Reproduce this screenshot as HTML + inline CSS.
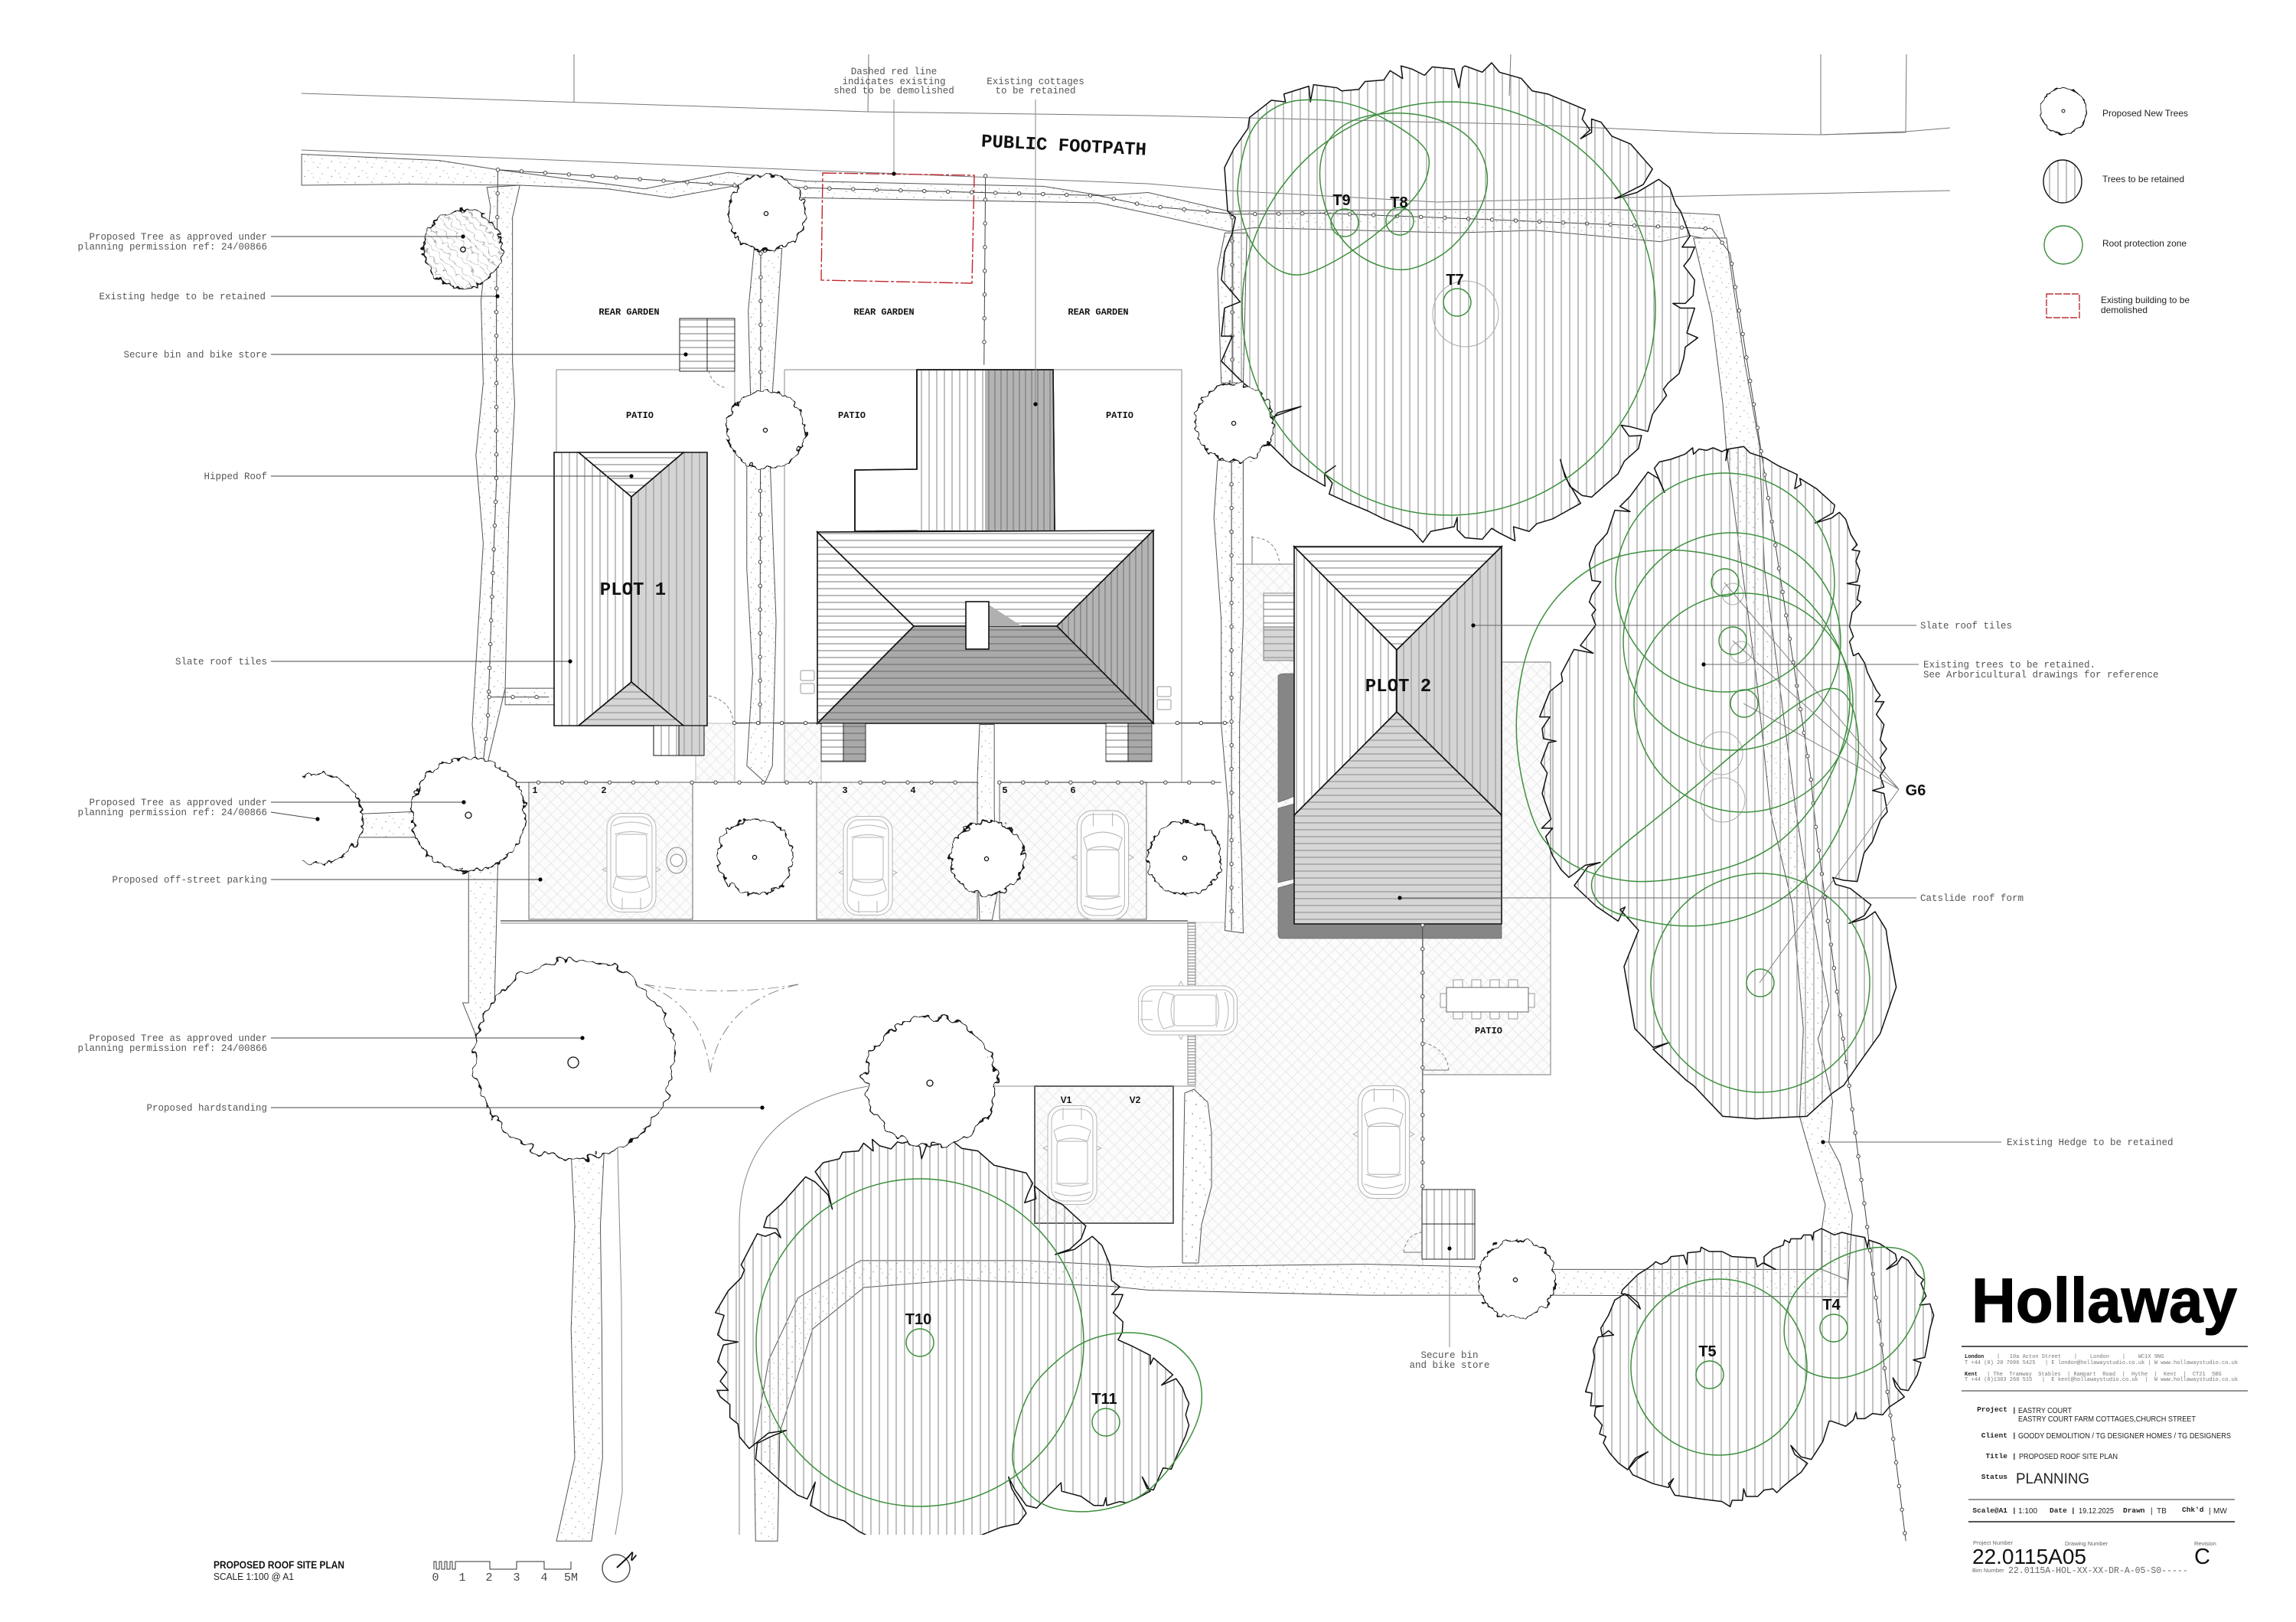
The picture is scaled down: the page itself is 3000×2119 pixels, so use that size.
<!DOCTYPE html>
<html><head><meta charset="utf-8"><title>Proposed Roof Site Plan</title>
<style>
html,body{margin:0;padding:0;background:#fff;width:3000px;height:2119px;overflow:hidden}
svg{display:block}
.m{font-family:"Liberation Mono",monospace}
.s{font-family:"Liberation Sans",sans-serif}
.lab{font-size:12.5px;fill:#555}
.b{font-weight:bold;fill:#111}
.t{font-family:"Liberation Sans",sans-serif;font-weight:bold;font-size:20px;fill:#111;text-anchor:middle}
.mid{text-anchor:middle}.end{text-anchor:end}
.sm{font-family:"Liberation Mono",monospace;font-size:7px;fill:#777}
.smb{font-family:"Liberation Mono",monospace;font-size:7px;fill:#222;font-weight:bold}
.k{font-family:"Liberation Mono",monospace;font-weight:bold;font-size:9.5px;fill:#222;text-anchor:end}
.k2{font-family:"Liberation Mono",monospace;font-weight:bold;font-size:9.5px;fill:#222}
.v{font-family:"Liberation Sans",sans-serif;font-size:10px;fill:#222}
.cap{font-family:"Liberation Sans",sans-serif;font-size:7.5px;fill:#666}
.ns polygon,.ns polyline,.ns path,.nss,#fp polyline{vector-effect:non-scaling-stroke}
#fp polyline{fill:none}
</style></head><body>
<svg xmlns="http://www.w3.org/2000/svg" width="3000" height="2119" viewBox="0 0 3000 2119">
<defs>
<pattern id="hat" width="11" height="20" patternUnits="userSpaceOnUse"><line x1="5" y1="0" x2="5" y2="20" stroke="#999" stroke-width="1.2"/></pattern>
<pattern id="diag" width="12" height="12" patternUnits="userSpaceOnUse"><rect width="12" height="12" fill="#fff"/><path d="M0 0L12 12" stroke="#aaa" stroke-width=".8"/></pattern>
<pattern id="rv" width="10" height="20" patternUnits="userSpaceOnUse"><rect width="10" height="20" fill="#fff"/><line x1="4" y1="0" x2="4" y2="20" stroke="#777" stroke-width=".9"/></pattern>
<pattern id="rvg" width="10" height="20" patternUnits="userSpaceOnUse"><rect width="10" height="20" fill="#d4d4d4"/><line x1="4" y1="0" x2="4" y2="20" stroke="#888" stroke-width=".9"/></pattern>
<pattern id="rvd" width="8" height="20" patternUnits="userSpaceOnUse"><rect width="8" height="20" fill="#b4b4b4"/><line x1="4" y1="0" x2="4" y2="20" stroke="#666" stroke-width=".9"/></pattern>
<pattern id="rh" width="20" height="9" patternUnits="userSpaceOnUse"><rect width="20" height="9" fill="#fff"/><line x1="0" y1="4" x2="20" y2="4" stroke="#777" stroke-width=".9"/></pattern>
<pattern id="rhg" width="20" height="9" patternUnits="userSpaceOnUse"><rect width="20" height="9" fill="#d6d6d6"/><line x1="0" y1="4" x2="20" y2="4" stroke="#888" stroke-width=".9"/></pattern>
<pattern id="rhd" width="20" height="9" patternUnits="userSpaceOnUse"><rect width="20" height="9" fill="#a9a9a9"/><line x1="0" y1="4" x2="20" y2="4" stroke="#666" stroke-width=".9"/></pattern>
<pattern id="herr" width="16" height="16" patternUnits="userSpaceOnUse"><rect width="16" height="16" fill="#fcfcfc"/><path d="M0 8L8 0M8 16L16 8M0 8L8 16M8 0L16 8" stroke="#e8e8e8" stroke-width=".9" fill="none"/></pattern>
<pattern id="stip" width="37" height="29" patternUnits="userSpaceOnUse"><rect width="37" height="29" fill="#fff"/><g fill="#8f8f8f"><circle cx="4" cy="5" r=".9"/><circle cx="14" cy="11" r=".8"/><circle cx="27" cy="4" r=".9"/><circle cx="33" cy="17" r=".8"/><circle cx="9" cy="22" r=".9"/><circle cx="21" cy="24" r=".8"/><circle cx="19" cy="16" r=".7"/><circle cx="30" cy="26" r=".7"/></g></pattern>
<pattern id="ladder" width="20" height="4" patternUnits="userSpaceOnUse"><line x1="0" y1="2" x2="20" y2="2" stroke="#777" stroke-width="1"/></pattern>
<clipPath id="plan"><rect x="394" y="70" width="2200" height="1935"/></clipPath>
<clipPath id="halfT"><rect x="395" y="900" width="200" height="300"/></clipPath>
<filter id="ro" x="-15%" y="-15%" width="130%" height="130%" color-interpolation-filters="sRGB"><feTurbulence type="fractalNoise" baseFrequency=".11" numOctaves="2" seed="4"/><feDisplacementMap in="SourceGraphic" scale="13" xChannelSelector="R" yChannelSelector="G"/></filter>
<filter id="ro2" x="-10%" y="-10%" width="120%" height="120%" color-interpolation-filters="sRGB"><feTurbulence type="fractalNoise" baseFrequency=".07" numOctaves="2" seed="9"/><feDisplacementMap in="SourceGraphic" scale="20" xChannelSelector="R" yChannelSelector="G"/></filter>
<filter id="ro3" x="-15%" y="-15%" width="130%" height="130%" color-interpolation-filters="sRGB"><feTurbulence type="fractalNoise" baseFrequency=".12" numOctaves="2" seed="2"/><feDisplacementMap in="SourceGraphic" scale="6" xChannelSelector="R" yChannelSelector="G"/></filter>

<!-- traced retained tree canopies -->
<polygon id="pT7" class="nss" transform="translate(1600 80) scale(.40816)" points="0,340 30,280 75,215 80,180 150,125 195,130 190,105 270,80 275,130 285,75 360,85 375,95 430,90 450,65 510,60 530,30 570,55 565,15 600,25 640,45 665,18 735,25 750,85 762,20 770,15 825,35 855,5 880,35 950,55 985,95 1035,105 1155,155 1145,185 1170,220 1140,248 1175,228 1175,185 1205,195 1240,240 1300,265 1370,345 1340,395 1250,440 1320,420 1390,378 1425,405 1445,460 1460,480 1490,560 1465,595 1505,595 1490,630 1470,655 1505,700 1500,750 1475,775 1435,775 1460,790 1505,790 1480,870 1515,885 1475,915 1470,950 1455,1000 1420,1030 1405,1050 1415,1070 1370,1130 1355,1185 1300,1170 1270,1165 1295,1200 1335,1198 1325,1240 1280,1280 1260,1320 1175,1395 1145,1390 1105,1360 1085,1310 1075,1275 1090,1330 1140,1415 1050,1465 1000,1480 975,1505 925,1490 930,1535 880,1510 855,1495 825,1530 770,1525 745,1500 745,1460 735,1490 660,1505 635,1540 600,1500 510,1465 460,1440 400,1415 335,1385 345,1350 320,1320 355,1295 320,1320 322,1360 270,1330 215,1295 140,1220 150,1140 245,1105 170,1125 150,1150 125,1080 100,1060 60,1030 30,1000 -10,960 25,880 -10,880 0,790 50,770 -10,700 0,610 25,550 35,500 10,480"/>
<polygon id="pG6" class="nss" transform="translate(1990 570) scale(.33333)" points="515,125 535,100 580,90 635,70 665,45 668,70 690,50 720,55 745,45 780,60 800,50 795,95 805,50 865,40 890,65 950,85 1000,115 1075,150 1065,205 1090,190 1085,165 1150,205 1222,270 1215,300 1145,340 1210,320 1240,298 1265,325 1285,385 1310,425 1290,445 1320,450 1305,490 1320,525 1310,570 1270,577 1320,585 1310,640 1325,650 1290,690 1280,745 1295,785 1280,805 1295,860 1315,850 1340,890 1350,925 1385,995 1400,1015 1380,1040 1415,1040 1385,1090 1415,1130 1400,1190 1425,1225 1400,1260 1420,1300 1400,1330 1415,1375 1370,1388 1415,1400 1428,1472 1401,1504 1369,1590 1337,1633 1310,1745 1257,1740 1214,1729 1225,1756 1283,1772 1364,1836 1337,1879 1278,1909 1342,1890 1380,1863 1423,1933 1429,1977 1463,2159 1400,2341 1328,2442 1257,2544 1213,2574 1113,2665 912,2675 783,2665 668,2544 640,2524 510,2402 573,2376 510,2395 438,2321 410,2159 396,2078 453,1936 381,1855 400,1845 373,1900 287,1842 201,1761 255,1686 303,1670 244,1681 180,1729 148,1697 116,1644 89,1569 116,1536 73,1536 110,1500 75,1400 95,1320 70,1280 100,1200 130,1195 80,1185 75,1145 105,1100 65,1100 105,1000 155,960 150,930 200,835 275,850 225,820 285,740 270,700 285,680 260,650 270,620 305,570 270,565 260,500 285,430 330,380 360,290 420,295 380,275 420,235 490,140 530,165 555,220"/>
<polygon id="pT10" class="nss" transform="translate(920 1480) scale(.42092 .33801)" points="345,150 370,115 420,100 430,75 480,70 495,40 525,70 522,25 545,50 580,62 600,35 615,40 645,30 670,55 675,100 690,50 725,45 765,25 800,60 850,70 900,125 1000,155 1020,195 1005,235 995,270 1030,255 1025,205 1075,255 1110,275 1185,360 1170,410 1135,450 1090,470 1150,450 1205,400 1235,435 1260,510 1265,570 1290,595 1265,625 1300,625 1285,670 1270,695 1300,730 1298,770 1285,800 1330,825 1385,860 1385,895 1395,870 1455,935 1420,975 1465,950 1485,985 1495,1020 1505,1045 1495,1090 1505,1130 1495,1170 1470,1240 1450,1300 1425,1295 1395,1380 1375,1375 1360,1330 1385,1385 1340,1415 1310,1430 1290,1425 1250,1440 1247,1410 1240,1440 1210,1440 1170,1405 1110,1385 1108,1352 1032,1450 1000,1440 965,1380 945,1330 955,1375 1000,1470 975,1510 920,1525 860,1555 830,1575 535,1575 480,1540 435,1500 385,1480 330,1440 345,1350 320,1415 290,1400 245,1355 160,1260 165,1200 205,1175 255,1150 200,1160 140,1220 110,1175 105,1125 80,1100 80,1050 50,1020 40,995 75,995 50,960 70,925 42,885 60,820 105,808 60,800 42,780 62,705 35,695 75,610 115,560 125,530 115,510 165,390 190,400 220,385 238,405 225,370 185,365 195,325 240,275 315,170 345,190 385,240 398,295 385,225"/>
<polygon id="pT5" class="nss" transform="translate(2060 1590) scale(.33333)" points="180,285 240,225 280,200 300,185 310,175 330,185 355,175 370,155 420,150 432,185 435,140 485,135 488,118 520,135 570,135 610,155 700,160 708,195 730,180 780,205 735,180 735,155 770,125 810,110 815,90 835,100 840,85 880,85 890,70 920,70 925,90 930,60 960,45 1010,70 1040,60 1080,70 1130,80 1140,120 1145,90 1190,105 1250,145 1255,170 1215,205 1255,185 1275,155 1300,170 1335,225 1360,245 1350,260 1370,310 1345,345 1385,340 1400,385 1385,440 1375,500 1365,550 1320,560 1350,570 1335,620 1300,680 1270,675 1240,630 1250,665 1285,705 1225,745 1200,775 1160,770 1130,790 1100,790 1095,765 1085,795 1055,820 1000,800 990,800 965,880 920,950 880,940 840,895 855,930 905,965 880,1000 835,1035 805,1060 785,1080 770,1065 735,1070 710,1095 665,1095 655,1065 650,1110 610,1110 602,1135 570,1115 490,1105 385,1090 360,1045 380,1025 360,1060 300,1045 220,1010 205,985 235,950 280,920 230,945 200,990 165,965 130,925 105,885 115,860 90,850 100,815 70,780 75,745 105,740 55,740 60,690 35,685 55,620 70,550 65,520 85,470 145,462 125,445 100,465 95,435 125,385 150,325 190,300 250,360 240,335 205,305 175,300"/>
<clipPath id="cT7"><use href="#pT7"/></clipPath>
<clipPath id="cG6"><use href="#pG6"/></clipPath>
<clipPath id="cT10"><use href="#pT10"/></clipPath>
<clipPath id="cT5"><use href="#pT5"/></clipPath>

<!-- fence paths, in a shared coordinate frame -->
<g id="fp">
<polyline points="680,328 1000,358 1150,365 1340,372 1500,378 1568,398 1688,414 1808,412 2048,425 2338,442 2363,490 2403,850 2473,1500 2480,1598 2543,2288 2603,2978"/>
<polyline points="680,328 678,570 678,930 672,1150 666,1400 660,1470"/>
<polyline points="1346,340 1344,705"/><polyline points="1039,490 1038,1400"/>
<polyline points="1683,420 1683,740"/><polyline points="1682,890 1682,1568 1682,1798"/>
<polyline points="703,1512 900,1512"/><polyline points="945,1512 1135,1512"/><polyline points="1175,1512 1335,1512"/><polyline points="1365,1512 1668,1512"/>
<polyline points="1003,1397 1120,1397"/><polyline points="1608,1397 1678,1397"/><polyline points="668,1347 750,1347"/><polyline points="1943,1788 1943,2298"/>
</g>

<g id="car" fill="#fff" stroke="#b5b5b5" stroke-width="1">
<rect x="-32" y="-64.5" width="64" height="129" rx="19"/>
<rect x="-27" y="-60" width="54" height="120" rx="15" fill="none"/>
<path d="M-24 -32Q0 -46 24 -32L20 -18Q0 -26 -20 -18Z" fill="none"/>
<rect x="-20" y="-18" width="40" height="55" rx="4" fill="none"/>
<path d="M-22 37Q0 44 22 37M-24 48Q0 58 24 48M-32 -12l-6 3l6 3M32 -12l6 3l-6 3M-12 -62V-46M12 -62V-46" fill="none"/>
</g>
</defs>
<rect width="3000" height="2119" fill="#fff"/>

<!-- site lines -->
<g fill="none" stroke="#777" stroke-width="1">
<polyline points="394,122 1134,146 1500,151 1978,162 2241,174 2378,176 2490,172 2548,167"/>
<polyline points="394,196 1500,240 1605,249 1878,264 2170,257 2548,249"/>
<line x1="750" y1="71" x2="750" y2="133"/><line x1="1135" y1="71" x2="1134" y2="146"/><line x1="1974" y1="71" x2="1972" y2="125"/>
<polyline points="2379,71 2379,176 2490,173 2491,71"/>
</g>

<!-- paving -->
<g fill="url(#herr)" stroke="#666" stroke-width="1">
<rect x="691" y="1022" width="214" height="179"/><rect x="1067" y="1022" width="210" height="179"/><rect x="1306" y="1022" width="192" height="179"/>
<rect x="909" y="945" width="51" height="77" stroke="#bbb"/><rect x="1025" y="945" width="48" height="77" stroke="#bbb"/>
<polygon points="1562,1205 1562,1656 1859,1656 1859,1226 1691,1226 1691,737 1615,737 1615,1205" stroke="#ccc"/>
<rect x="1859" y="865" width="167" height="539" stroke="#777"/>
<rect x="1352" y="1419" width="181" height="179" stroke="#666" stroke-width="2"/>
</g>
<rect x="1552" y="1205" width="10" height="212" fill="url(#ladder)" stroke="#777" stroke-width=".8"/>
<g fill="none" stroke="#888" stroke-width="1">
<line x1="654" y1="1203" x2="1552" y2="1203" stroke-width="2"/><line x1="654" y1="1206" x2="1552" y2="1206"/>
<line x1="1296" y1="1419" x2="1352" y2="1419"/>
<line x1="1533" y1="1419" x2="1562" y2="1419"/>
<path d="M1134 1419 Q966 1450 966 1600 L966 2005"/>
<path d="M727 483H960V946M727 483V591M1025 483H1198M1376 483H1544V1022M1025 483V1022"/>
<path d="M807 1500L812 1700L813 1950L804 2005"/>
<path d="M960 945H1073M1505 945H1615"/>
</g>

<!-- hedges: shared zoom frame -->
<g transform="scale(.95666 .67604)" class="ns" clip-path="url(#plan2)" fill="url(#stip)" stroke="#555" stroke-width="1">
<polygon points="412,298 600,310 680,328 880,365 995,333 1100,350 1425,360 1505,378 1568,372 1678,408 1968,405 2208,405 2348,415 2358,470 2308,455 2268,467 2098,445 1988,450 1713,440 1678,447 1568,412 1500,392 1090,382 1000,360 915,382 830,365 710,358 560,356 412,358"/>
<polygon points="665,362 670,400 657,580 660,740 650,880 660,1050 645,1400 650,1470 665,1480 690,1330 695,1000 703,780 700,700 700,420 710,358"/>
<polygon points="640,1668 640,1938 632,1938 655,2018 675,1958 680,1668"/>
<polygon points="690,1330 760,1330 760,1362 690,1362"/>
<polygon points="490,1573 575,1568 575,1618 490,1618"/>
<polygon points="1030,480 1022,600 1025,760 1020,900 1020,1100 1028,1300 1020,1480 1045,1512 1055,1480 1060,1200 1052,900 1055,760 1068,480"/>
<polygon points="1338,1400 1335,1500 1335,1668 1338,1778 1355,1778 1362,1728 1358,1568 1358,1400"/>
<polygon points="1668,740 1663,520 1673,450 1703,450 1698,740"/>
<polygon points="1663,890 1658,1000 1668,1200 1668,1400 1678,1568 1676,1668 1673,1798 1698,1803 1696,1668 1693,1568 1693,1400 1698,1200 1698,890"/>
<polygon points="2313,460 2338,610 2353,780 2358,870 2398,1300 2418,1568 2448,1748 2463,1988 2458,2158 2468,2208 2493,2328 2488,2378 2488,2453 2523,2506 2530,2348 2513,2248 2498,2208 2503,2128 2483,2008 2498,1943 2473,1748 2453,1568 2410,1100 2403,860 2383,700 2368,560 2358,460"/>
<polygon points="1032,2978 1030,2788 1050,2628 1090,2508 1175,2436 1400,2436 1568,2448 1868,2443 2018,2448 2123,2453 2488,2453 2523,2473 2523,2506 2123,2503 2018,2503 1868,2503 1568,2493 1520,2486 1310,2473 1180,2488 1110,2568 1065,2768 1062,2978"/>
<polygon points="780,2228 785,2368 780,2568 785,2818 760,2978 808,2978 823,2818 822,2568 820,2368 825,2228"/>
</g>
<polygon points="1548,1428 1560,1423 1578,1440 1583,1480 1583,1550 1570,1600 1566,1650 1545,1650 1545,1600" fill="url(#stip)" stroke="#555" stroke-width="1"/>

<!-- Plot 1 -->
<g stroke="#111" stroke-width="1.6" stroke-linejoin="miter">
<polygon points="724,591 756,591 825,649 825,891 756,948 724,948" fill="url(#rv)"/>
<polygon points="893,591 924,591 924,948 893,948 825,891 825,649" fill="url(#rvg)"/>
<polygon points="756,591 893,591 825,649" fill="url(#rh)"/>
<polygon points="756,948 893,948 825,891" fill="url(#rhg)"/>
<rect x="854" y="948" width="33" height="39" fill="url(#rv)" stroke-width="1"/><rect x="887" y="948" width="33" height="39" fill="url(#rvg)" stroke-width="1"/>
<!-- rear cottage roof -->
<polygon points="1117,694 1117,614 1198,613 1198,483 1376,483 1378,692" fill="#fff"/>
<rect x="1199" y="484" width="88" height="209" fill="url(#rv)" stroke="none"/><rect x="1287" y="484" width="90" height="209" fill="url(#rvd)" stroke="none"/>
<polyline points="1117,694 1117,614 1198,613 1198,483 1376,483 1378,692" fill="none"/>
<!-- main roof -->
<polygon points="1068,695 1194,818 1068,945" fill="url(#rh)"/>
<polygon points="1068,695 1507,693 1381,818 1194,818" fill="url(#rh)"/>
<polygon points="1507,693 1507,945 1381,818" fill="url(#rvd)"/>
<polygon points="1068,945 1507,945 1381,818 1194,818" fill="url(#rhd)"/>
<polygon points="1292,790 1335,818 1292,818" fill="#b0b0b0" stroke="none"/>
<rect x="1262" y="786" width="30" height="62" fill="#fff"/>
<!-- stubs -->
<rect x="1073" y="945" width="29" height="50" fill="url(#rh)" stroke-width=".8"/><rect x="1102" y="945" width="29" height="50" fill="url(#rhd)" stroke-width=".8"/>
<rect x="1445" y="945" width="29" height="50" fill="url(#rh)" stroke-width=".8"/><rect x="1474" y="945" width="31" height="50" fill="url(#rhd)" stroke-width=".8"/>
<!-- Plot 2 dark strip -->
<path d="M1670 884 Q1670 880 1680 880 H1691 V1040 Q1680 1045 1670 1048Z M1670 1056 L1691 1050 V1148 L1670 1153Z M1670 1160 L1691 1154 V1207 H1962 V1226 H1674 Q1670 1226 1670 1220Z" fill="#868686" stroke="#666" stroke-width=".8"/>
<rect x="1651" y="775" width="40" height="44" fill="url(#rh)" stroke="#666" stroke-width=".8"/><rect x="1651" y="819" width="40" height="44" fill="url(#rhg)" stroke="#666" stroke-width=".8"/>
<!-- Plot 2 roof -->
<polygon points="1691,714 1825,849 1825,930 1691,1065" fill="url(#rv)"/>
<polygon points="1962,714 1962,1065 1825,930 1825,849" fill="url(#rvg)"/>
<polygon points="1691,714 1962,714 1825,849" fill="url(#rh)"/>
<polygon points="1825,930 1962,1065 1962,1207 1691,1207 1691,1065" fill="url(#rhg)"/>
</g>
<!-- meter boxes -->
<g fill="#fff" stroke="#999" stroke-width="1"><rect x="1046" y="876" width="18" height="13" rx="2"/><rect x="1046" y="893" width="18" height="13" rx="2"/><rect x="1512" y="897" width="18" height="13" rx="2"/><rect x="1512" y="914" width="18" height="13" rx="2"/></g>
<!-- stores -->
<g stroke="#222" stroke-width="1">
<rect x="888" y="416" width="72" height="69" fill="url(#rh)"/><line x1="924" y1="416" x2="924" y2="485"/>
<rect x="1858" y="1554" width="69" height="91" fill="url(#rv)"/><line x1="1858" y1="1599" x2="1927" y2="1599"/>
</g>
<!-- doors / sight lines -->
<g fill="none" stroke="#777" stroke-width=".9" stroke-dasharray="4 3">
<path d="M926 484 Q930 503 950 507"/><path d="M926 909 Q955 915 958 943"/>
<path d="M1635 702 Q1668 702 1672 737"/><path d="M1860 1362 Q1890 1370 1893 1398"/><path d="M1834 1636 Q1838 1612 1858 1610"/>
<path d="M842 1286 Q942 1303 1043 1286" stroke="#888" stroke-dasharray="14 5 3 5"/><path d="M842 1286 Q918 1313 928 1401" stroke-dasharray="14 5 3 5"/><path d="M1043 1286 Q942 1310 928 1401" stroke-dasharray="14 5 3 5"/>
</g>
<g stroke="#777" fill="none" stroke-width="1"><path d="M1860 1398H1893M1834 1636H1858M1636 700V737M1615 737H1691"/></g>

<!-- cars -->
<use href="#car" transform="translate(825 1127) rotate(180)"/>
<use href="#car" transform="translate(1134 1131) rotate(180)"/>
<use href="#car" transform="translate(1441 1130) scale(1.05 1.1)"/>
<use href="#car" transform="translate(1401 1509)"/>
<use href="#car" transform="translate(1552 1320) rotate(-90)"/>
<use href="#car" transform="translate(1808 1492) scale(1.05 1.14)"/>
<!-- table -->
<g fill="#fff" stroke="#999" stroke-width="1">
<rect x="1899" y="1280" width="12" height="12"/><rect x="1923" y="1280" width="12" height="12"/><rect x="1947" y="1280" width="12" height="12"/><rect x="1971" y="1280" width="12" height="12"/>
<rect x="1899" y="1322" width="12" height="9"/><rect x="1923" y="1322" width="12" height="9"/><rect x="1947" y="1322" width="12" height="9"/><rect x="1971" y="1322" width="12" height="9"/>
<rect x="1882" y="1298" width="8" height="18"/><rect x="1997" y="1298" width="8" height="18"/>
<rect x="1890" y="1290" width="107" height="32" stroke="#666"/>
</g>
<g fill="#fff" stroke="#888" stroke-width="1"><ellipse cx="884" cy="1124" rx="13" ry="17" fill="none"/><circle cx="884" cy="1124" r="8"/></g>

<!-- red dashed -->
<polygon points="1075,226 1273,229 1270,370 1073,366" fill="none" stroke="#c0272d" stroke-width="1.4" stroke-dasharray="18 3 4 3"/>

<!-- fences -->
<g transform="scale(.95666 .67604)">
<use href="#fp" stroke="#444" stroke-width="1"/>
<use href="#fp" stroke="#444" stroke-width="5.4" stroke-linecap="round" stroke-dasharray="0 31"/>
<use href="#fp" stroke="#fff" stroke-width="3.4" stroke-linecap="round" stroke-dasharray="0 31"/>
</g>

<!-- retained trees -->
<g clip-path="url(#plan)">
<rect x="1590" y="70" width="640" height="650" fill="url(#hat)" clip-path="url(#cT7)"/>
<rect x="2000" y="570" width="490" height="900" fill="url(#hat)" clip-path="url(#cG6)"/>
<rect x="920" y="1480" width="640" height="530" fill="url(#hat)" clip-path="url(#cT10)"/>
<rect x="2060" y="1590" width="480" height="400" fill="url(#hat)" clip-path="url(#cT5)"/>
<g fill="none" stroke="#111" stroke-width="1.5" stroke-linejoin="round">
<use href="#pT7"/><use href="#pG6"/><use href="#pT10"/><use href="#pT5"/>
</g>
</g>

<!-- grey stem circles -->
<g fill="none" stroke="#aaa" stroke-width="1">
<circle cx="1915" cy="410" r="43"/><circle cx="2264" cy="776" r="14"/><circle cx="2275" cy="852" r="14"/><circle cx="2249" cy="984" r="28"/><circle cx="2251" cy="1045" r="29"/>
</g>
<!-- G6 leaders -->
<g fill="none" stroke="#777" stroke-width=".9">
<path d="M2253 761L2481 1031L2299 1284M2264 837L2481 1031M2278 919L2481 1031"/>
</g>

<!-- proposed trees -->
<g fill="#fff" stroke="#111" stroke-width="1.5">
<circle cx="605" cy="325" r="51" fill="url(#diag)" filter="url(#ro)"/>
<g clip-path="url(#halfT)"><circle cx="415" cy="1070" r="59" filter="url(#ro)"/></g>
<circle cx="1002" cy="278" r="50" filter="url(#ro)"/>
<circle cx="1001" cy="561" r="51" filter="url(#ro)"/>
<circle cx="1613" cy="552" r="51" filter="url(#ro)"/>
<circle cx="612" cy="1064" r="74" filter="url(#ro)"/>
<circle cx="987" cy="1119" r="49" filter="url(#ro)"/>
<circle cx="1290" cy="1121" r="48" filter="url(#ro)"/>
<circle cx="1548" cy="1121" r="48" filter="url(#ro)"/>
<circle cx="750" cy="1384" r="130" filter="url(#ro2)"/>
<circle cx="1216" cy="1413" r="85" filter="url(#ro2)"/>
<circle cx="1982" cy="1671" r="51" filter="url(#ro)"/>
</g>
<g fill="#fff" stroke="#111" stroke-width="1.3">
<circle cx="605" cy="326" r="3.2"/><circle cx="1001" cy="279" r="2.6"/><circle cx="1000" cy="562" r="2.6"/><circle cx="1612" cy="553" r="2.6"/><circle cx="612" cy="1065" r="4"/><circle cx="986" cy="1120" r="2.6"/><circle cx="1289" cy="1122" r="2.6"/><circle cx="1548" cy="1121" r="2.6"/><circle cx="749" cy="1388" r="7"/><circle cx="1215" cy="1415" r="4"/><circle cx="1980" cy="1672" r="2.6"/>
</g>

<!-- RPZ green -->
<g fill="none" stroke="#3d8f3d" stroke-width="1.5">
<circle cx="1893" cy="403" r="270"/><circle cx="1904" cy="395" r="18"/>
<circle cx="1757" cy="291" r="18"/><circle cx="1829" cy="289" r="18"/>
<g class="ns" transform="translate(1600 80) scale(.40816)">
<path d="M60 295 Q80 210 130 170 Q180 130 240 125 Q300 120 365 130 Q430 140 495 175 Q560 210 600 240 Q640 270 650 295 Q660 320 650 360 Q640 400 600 445 Q560 490 500 540 Q440 590 370 630 Q300 670 262 680 Q225 690 187 675 Q150 660 115 620 Q80 580 62 525 Q45 470 42 425 Q40 380 60 295Z"/>
<path d="M310 310 Q320 260 360 222 Q400 185 475 172 Q550 160 625 172 Q700 185 755 222 Q810 260 830 315 Q850 370 835 425 Q820 480 780 535 Q740 590 695 620 Q650 650 605 662 Q560 675 505 657 Q450 640 410 605 Q370 570 345 520 Q320 470 310 415 Q300 360 310 310Z"/>
</g>
<path d="M1987.5 884 Q2000 818 2037.5 777 Q2075 736 2123 725 Q2171 714 2219.5 721.5 Q2268 729 2312.5 750 Q2357 771 2384 812.5 Q2411 854 2415.5 887.5 Q2420 921 2412 957 Q2404 993 2380.5 1034 Q2357 1075 2321.5 1102 Q2286 1129 2223.5 1142 Q2161 1155 2125 1150.5 Q2089 1146 2062.5 1133.5 Q2036 1121 2018 1098 Q2000 1075 1987.5 1012.5 Q1975 950 1987.5 884Z"/>
<path d="M2366 909 Q2339 925 2303.5 953.5 Q2268 982 2235 1010.5 Q2202 1039 2145.5 1084 Q2089 1129 2082 1145 Q2075 1161 2087.5 1177 Q2100 1193 2150 1203.5 Q2200 1214 2243 1207 Q2286 1200 2321.5 1178.5 Q2357 1157 2384 1116 Q2411 1075 2421.5 1030.5 Q2432 986 2426.5 950 Q2421 914 2407 903.5 Q2393 893 2366 909Z"/>
<circle cx="2254" cy="761" r="143"/><circle cx="2263" cy="838" r="142"/><circle cx="2278" cy="918" r="143"/>
<circle cx="2254" cy="761" r="18"/><circle cx="2264" cy="837" r="18"/><circle cx="2279" cy="919" r="18"/>
<circle cx="2300" cy="1284" r="143"/><circle cx="2300" cy="1284" r="18"/>
<circle cx="1202" cy="1754" r="214"/><circle cx="1202" cy="1754" r="18"/>
<circle cx="1445" cy="1858" r="18"/>
<g class="ns" transform="translate(920 1480) scale(.42092 .33801)">
<path d="M975 1115 Q1000 1000 1050 935 Q1100 870 1150 830 Q1200 790 1265 777.5 Q1330 765 1390 782.5 Q1450 800 1490 850 Q1530 900 1540 960 Q1550 1020 1540 1075 Q1530 1130 1500 1195 Q1470 1260 1425 1325 Q1380 1390 1330 1420 Q1280 1450 1220 1460 Q1160 1470 1100 1455 Q1040 1440 1005 1390 Q970 1340 960 1285 Q950 1230 975 1115Z"/>
</g>
<circle cx="2246" cy="1786" r="115"/><circle cx="2234" cy="1796" r="18"/><circle cx="2396" cy="1735" r="18"/>
<g class="ns" transform="translate(2060 1590) scale(.33333)">
<path d="M1240 120 Q1290 125 1322.5 152.5 Q1355 180 1361.5 220 Q1368 260 1359 305 Q1350 350 1320 415 Q1290 480 1240 530 Q1190 580 1135 602.5 Q1080 625 1040 630 Q1000 635 950 622.5 Q900 610 865 575 Q830 540 819 495 Q808 450 819 390 Q830 330 865 285 Q900 240 950 205 Q1000 170 1050 150 Q1100 130 1145 122.5 Q1190 115 1240 120Z"/>
</g>
</g>

<!-- leaders -->
<g stroke="#444" stroke-width="1" fill="none">
<path d="M354 309H605M354 387H650M354 463H896M354 622H825M354 864H745M354 1048H606M354 1061L415 1070M354 1149H706M354 1356H761M354 1447H996"/>
<path d="M1925 817H2504M2226 868H2507M1829 1173H2504M2382 1492H2615" stroke="#666"/>
<path d="M1894 1631V1760M1168 130V227M1353 130V528" stroke="#888"/>
</g>
<g fill="#000"><circle cx="605" cy="309" r="2.6"/><circle cx="650" cy="387" r="2.6"/><circle cx="896" cy="463" r="2.6"/><circle cx="825" cy="622" r="2.6"/><circle cx="745" cy="864" r="2.6"/><circle cx="606" cy="1048" r="2.6"/><circle cx="415" cy="1070" r="2.6"/><circle cx="706" cy="1149" r="2.6"/><circle cx="761" cy="1356" r="2.6"/><circle cx="996" cy="1447" r="2.6"/><circle cx="1925" cy="817" r="2.6"/><circle cx="2226" cy="868" r="2.6"/><circle cx="1829" cy="1173" r="2.6"/><circle cx="2382" cy="1492" r="2.6"/><circle cx="1894" cy="1631" r="2.6"/><circle cx="1168" cy="227" r="2.6"/><circle cx="1353" cy="528" r="2.6"/></g>

<!-- left labels -->
<g class="m lab end">
<text x="349" y="313">Proposed Tree as approved under</text><text x="349" y="326">planning permission ref: 24/00866</text>
<text x="347" y="391">Existing hedge to be retained</text>
<text x="349" y="467">Secure bin and bike store</text>
<text x="349" y="626">Hipped Roof</text>
<text x="349" y="868">Slate roof tiles</text>
<text x="349" y="1052">Proposed Tree as approved under</text><text x="349" y="1065">planning permission ref: 24/00866</text>
<text x="349" y="1153">Proposed off-street parking</text>
<text x="349" y="1360">Proposed Tree as approved under</text><text x="349" y="1373">planning permission ref: 24/00866</text>
<text x="349" y="1451">Proposed hardstanding</text>
</g>
<g class="m lab">
<text x="2509" y="821">Slate roof tiles</text>
<text x="2513" y="872">Existing trees to be retained.</text><text x="2513" y="885">See Arboricultural drawings for reference</text>
<text x="2509" y="1177">Catslide roof form</text>
<text x="2622" y="1496">Existing Hedge to be retained</text>
</g>
<g class="m lab mid">
<text x="1894" y="1774">Secure bin</text><text x="1894" y="1787">and bike store</text>
<text x="1168" y="97">Dashed red line</text><text x="1168" y="110">indicates existing</text><text x="1168" y="122">shed to be demolished</text>
<text x="1353" y="110">Existing cottages</text><text x="1353" y="122">to be retained</text>
</g>
<text class="m b mid" x="1390" y="197" font-size="24" transform="rotate(3 1390 190)">PUBLIC FOOTPATH</text>
<g class="m b mid" font-size="12">
<text x="822" y="411">REAR GARDEN</text><text x="1155" y="411">REAR GARDEN</text><text x="1435" y="411">REAR GARDEN</text>
<text x="836" y="546">PATIO</text><text x="1113" y="546">PATIO</text><text x="1463" y="546">PATIO</text><text x="1945" y="1350">PATIO</text>
<text x="699" y="1036">1</text><text x="789" y="1036">2</text><text x="1104" y="1036">3</text><text x="1193" y="1036">4</text><text x="1313" y="1036">5</text><text x="1402" y="1036">6</text>
</g>
<g class="m b mid" font-size="24"><text x="827" y="777">PLOT 1</text><text x="1827" y="903">PLOT 2</text></g>
<g class="s b mid" font-size="12"><text x="1393" y="1441">V1</text><text x="1483" y="1441">V2</text></g>
<g class="t">
<text x="1753" y="268">T9</text><text x="1828" y="271">T8</text><text x="1901" y="372">T7</text>
<text x="1200" y="1730">T10</text><text x="1443" y="1834">T11</text><text x="2231" y="1772">T5</text><text x="2393" y="1711">T4</text><text x="2503" y="1039">G6</text>
</g>

<!-- legend -->
<circle cx="2696" cy="145" r="30" fill="#fff" stroke="#111" stroke-width="1.3" filter="url(#ro3)"/><circle cx="2696" cy="145" r="2" fill="#fff" stroke="#111"/>
<ellipse cx="2695" cy="237" rx="25" ry="28" fill="url(#hat)" stroke="#111" stroke-width="1.4"/>
<circle cx="2696" cy="320" r="25" fill="none" stroke="#3d8f3d" stroke-width="1.4"/>
<rect x="2674" y="384" width="43" height="31" fill="none" stroke="#b8323a" stroke-width="1.4" stroke-dasharray="9 2"/>
<g class="s" font-size="12" fill="#222">
<text x="2747" y="152" textLength="112" lengthAdjust="spacingAndGlyphs">Proposed New Trees</text>
<text x="2747" y="238" textLength="107" lengthAdjust="spacingAndGlyphs">Trees to be retained</text>
<text x="2747" y="322" textLength="110" lengthAdjust="spacingAndGlyphs">Root protection zone</text>
<text x="2745" y="396" textLength="116" lengthAdjust="spacingAndGlyphs">Existing building to be</text>
<text x="2745" y="409" textLength="61" lengthAdjust="spacingAndGlyphs">demolished</text>
</g>

<!-- plan title -->
<text class="s" x="279" y="2049" font-size="13.5" font-weight="bold" fill="#111" textLength="171" lengthAdjust="spacingAndGlyphs">PROPOSED ROOF SITE PLAN</text>
<text class="s" x="279" y="2064" font-size="13" fill="#222" textLength="105" lengthAdjust="spacingAndGlyphs">SCALE 1:100 @ A1</text>
<path d="M567 2050V2040H570V2050H574V2040H577V2050H581V2040H584V2050H588V2040H591V2050H595V2040H640V2050H675V2040H711V2050H746V2040" fill="none" stroke="#333" stroke-width="1"/>
<g class="m" font-size="15" fill="#444" text-anchor="middle"><text x="569" y="2065">0</text><text x="604" y="2065">1</text><text x="639" y="2065">2</text><text x="675" y="2065">3</text><text x="711" y="2065">4</text><text x="746" y="2065">5M</text></g>
<circle cx="805" cy="2049" r="18" fill="none" stroke="#333" stroke-width="1.2"/>
<line x1="806" y1="2048" x2="822" y2="2033" stroke="#111" stroke-width="2"/>
<text class="s" x="826" y="2038" font-size="14" font-weight="bold" fill="#111" text-anchor="middle" transform="rotate(40 826 2033)">N</text>

<!-- title block -->
<text class="s" x="2576" y="1727" font-size="82" font-weight="bold" fill="#000" stroke="#000" stroke-width="1.2" textLength="347" lengthAdjust="spacingAndGlyphs">Hollaway</text>
<g stroke="#555" fill="none"><line x1="2563" y1="1759" x2="2937" y2="1759" stroke-width="2"/><line x1="2563" y1="1817" x2="2937" y2="1817" stroke-width="1.2"/><line x1="2572" y1="1959" x2="2920" y2="1959" stroke-width="1.2"/><line x1="2572" y1="1988" x2="2920" y2="1988" stroke-width="2"/></g>
<text class="smb" x="2567" y="1774">London</text><text class="sm" x="2609" y="1774" xml:space="preserve">|   10a Acton Street    |    London    |    WC1X 9NG</text>
<text class="sm" x="2567" y="1782" xml:space="preserve">T +44 (0) 20 7096 5425   | E london@hollawaystudio.co.uk | W www.hollawaystudio.co.uk</text>
<text class="smb" x="2567" y="1797">Kent</text><text class="sm" x="2596" y="1797" xml:space="preserve">| The  Tramway  Stables  | Rampart  Road  |  Hythe  |  Kent  |  CT21  5BG</text>
<text class="sm" x="2567" y="1804" xml:space="preserve">T +44 (0)1303 260 515   |  E kent@hollawaystudio.co.uk  |  W www.hollawaystudio.co.uk</text>

<text class="k" x="2623" y="1844">Project</text><text class="k" x="2623" y="1878">Client</text><text class="k" x="2623" y="1905">Title</text><text class="k" x="2623" y="1932">Status</text>
<g class="k2"><text x="2629" y="1845">|</text><text x="2629" y="1878">|</text><text x="2629" y="1905">|</text></g>
<text class="v" x="2637" y="1846" textLength="70" lengthAdjust="spacingAndGlyphs">EASTRY COURT</text>
<text class="v" x="2637" y="1857" textLength="232" lengthAdjust="spacingAndGlyphs">EASTRY COURT FARM COTTAGES,CHURCH STREET</text>
<text class="v" x="2637" y="1879" textLength="278" lengthAdjust="spacingAndGlyphs">GOODY DEMOLITION / TG DESIGNER HOMES / TG DESIGNERS</text>
<text class="v" x="2638" y="1906" textLength="129" lengthAdjust="spacingAndGlyphs">PROPOSED ROOF SITE PLAN</text>
<text class="s" x="2634" y="1938" font-size="19" fill="#222" textLength="96" lengthAdjust="spacingAndGlyphs">PLANNING</text>
<text class="k" x="2623" y="1976">Scale@A1</text><text class="k2" x="2629" y="1976">|</text><text class="v" x="2637" y="1977">1:100</text>
<text class="k2" x="2678" y="1976">Date</text><text class="k2" x="2706" y="1976">|</text><text class="v" x="2716" y="1977" textLength="46" lengthAdjust="spacingAndGlyphs">19.12.2025</text>
<text class="k2" x="2774" y="1976">Drawn</text><text class="v" x="2810" y="1977">|</text><text class="v" x="2818" y="1977">TB</text>
<text class="k2" x="2851" y="1975">Chk'd</text><text class="v" x="2886" y="1977">|</text><text class="v" x="2892" y="1977">MW</text>
<text class="cap" x="2578" y="2018">Project Number</text><text class="cap" x="2698" y="2019">Drawing Number</text><text class="cap" x="2867" y="2019">Revision</text>
<text class="s" x="2577" y="2043" font-size="27.5" fill="#111" textLength="149" lengthAdjust="spacingAndGlyphs">22.0115A05</text>
<text class="s" x="2867" y="2043" font-size="29" fill="#111">C</text>
<text class="cap" x="2577" y="2054">Bim Number</text>
<text class="m" x="2624" y="2055" font-size="11.5" fill="#666">22.0115A-HOL-XX-XX-DR-A-05-S0-----</text>
</svg>
</body></html>
